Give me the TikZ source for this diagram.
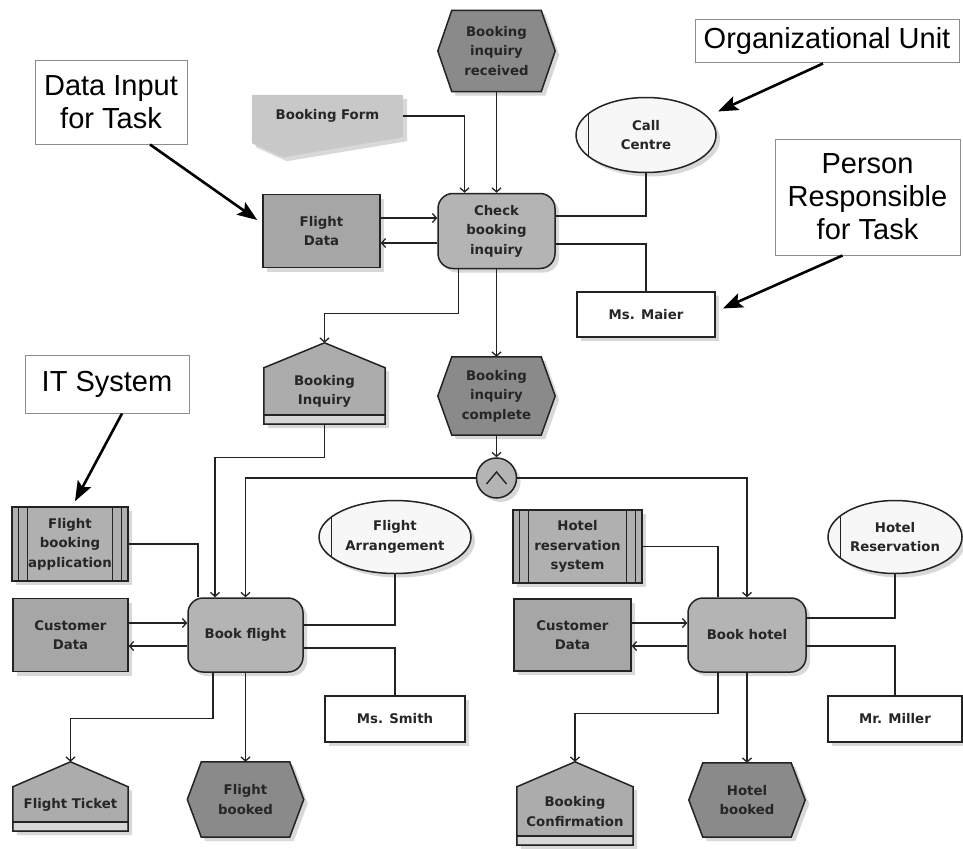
\documentclass[tikz,border=0pt]{standalone}
\usepackage{fontspec}
\setmainfont{Liberation Sans}
\newfontfamily\lbl{DejaVu Sans}
\usetikzlibrary{shapes.geometric,shadows,arrows.meta,backgrounds}

\definecolor{linecol}{RGB}{35,35,35}
\definecolor{evtfill}{RGB}{138,138,138}
\definecolor{fnfill}{RGB}{180,180,180}
\definecolor{datafill}{RGB}{166,166,166}
\definecolor{itfill}{RGB}{176,176,176}
\definecolor{outfill}{RGB}{172,172,172}
\definecolor{bandfill}{RGB}{215,215,215}
\definecolor{formfill}{RGB}{200,200,200}
\definecolor{orgfill}{RGB}{247,247,247}

% event: hexagon around a node box
\newcommand\evhex[1]{%
  \path[evshape] (#1.west) -- ([xshift=14pt]#1.north west) -- ([xshift=-14pt]#1.north east)
    -- (#1.east) -- ([xshift=-14pt]#1.south east) -- ([xshift=14pt]#1.south west) -- cycle;}
% information object: house with a band at the bottom
\newcommand\outhouse[1]{%
  \path[outshape] (#1.north west) -- ([yshift=25pt]#1.north) -- (#1.north east)
    -- ([yshift=-9pt]#1.south east) -- ([yshift=-9pt]#1.south west) -- cycle;
  \fill[bandfill] ([xshift=0.75pt]#1.south west) rectangle ([shift={(-0.75pt,-8.25pt)}]#1.south east);
  \draw[linecol,line width=1.5pt] (#1.south west) -- (#1.south east);}
% document with a pointed lower edge
\newcommand\formdoc[1]{%
  \fill[formfill,shade] (#1.north west) -- (#1.north east) -- (#1.south east)
    -- ([shift={(31pt,-20pt)}]#1.south west) -- ([yshift=-6pt]#1.south west) -- cycle;}

\begin{document}
\begin{tikzpicture}[x=1pt,y=-1pt,
  lw/.style={draw=linecol,line width=1.5pt},
  shade/.style={drop shadow={shadow xshift=4pt,shadow yshift=-4pt,fill=black!30}},
  txt/.style={align=center,inner sep=0pt,text=black!85,font=\lbl\bfseries\fontsize{13.3}{19.5}\selectfont},
  sz/.style 2 args={minimum width=#1,minimum height=#2},
  evt/.style={txt},
  evshape/.style={lw,fill=evtfill,shade},
  outshape/.style={lw,fill=outfill,shade},
  fn/.style={txt,rectangle,rounded corners=15pt,lw,fill=fnfill,shade},
  data/.style={txt,rectangle,lw,fill=datafill,shade},
  pers/.style={txt,rectangle,lw,fill=white,shade},
  itsys/.style={txt,rectangle,lw,fill=itfill,shade,path picture={
    \foreach \s in {6.5,15.5}{
      \draw[linecol,line width=1.2pt] ([xshift=\s pt]path picture bounding box.north west) -- ([xshift=\s pt]path picture bounding box.south west);
      \draw[linecol,line width=1.2pt] ([xshift=-\s pt]path picture bounding box.north east) -- ([xshift=-\s pt]path picture bounding box.south east);}}},
  org/.style={txt,ellipse,lw,fill=orgfill,shade,path picture={
    \draw[linecol,line width=1.2pt] ([xshift=12.5pt]path picture bounding box.north west) -- ([xshift=12.5pt]path picture bounding box.south west);}},
  andc/.style={circle,lw,fill=fnfill,shade,minimum size=40pt,inner sep=0pt,path picture={
    \draw[linecol,line width=1.4pt] ([shift={(-10pt,-6pt)}]path picture bounding box.center) -- ([yshift=6pt]path picture bounding box.center) -- ([shift={(10pt,-6pt)}]path picture bounding box.center);}},
  ann/.style={draw=black!45,line width=1pt,fill=white,align=center,inner sep=0pt,font=\fontsize{29}{33}\selectfont},
  annarr/.style={line width=2.6pt,draw=black,-{Stealth[length=20pt,width=15pt,inset=4pt]}},
  conn/.style={draw=linecol,line width=1.3pt},
  arr/.style={conn,-{Straight Barb[length=4pt,width=9pt]}}
]
\useasboundingbox (0,0) rectangle (963,848);
\begin{scope}[on background layer]
  \fill[white] (0,0) rectangle (963,848);
\end{scope}

% --- check booking inquiry ---
\node[evt,sz={117}{81}] (ev1) at (496.5,51) {Booking\\inquiry\\received};
\node[txt,sz={151}{42}] (form) at (327.5,116) {Booking Form};
\node[fn,sz={117}{75}] (fn1) at (496.5,231) {Check\\booking\\inquiry};
\node[data,sz={117}{73}] (fdata) at (321.5,231) {Flight\\Data};
\node[org,sz={140}{75}] (org1) at (646,135) {Call\\Centre};
\node[pers,sz={138}{45}] (p1) at (646,314.5) {Ms. Maier};
\node[txt,sz={121}{47}] (out1) at (324.5,391.5) {Booking\\Inquiry};
\node[evt,sz={117}{78}] (ev2) at (496.5,396) {Booking\\inquiry\\complete};
\node[andc] (and) at (496.5,478) {};

% --- book flight ---
\node[itsys,sz={116}{74}] (it1) at (70,544) {Flight\\booking\\application};
\node[data,sz={115}{73}] (cdata1) at (70.5,635) {Customer\\Data};
\node[fn,sz={115}{74}] (fn2) at (245.5,635) {Book flight};
\node[org,sz={152}{73}] (org2) at (395,537) {Flight\\Arrangement};
\node[pers,sz={140}{46}] (p2) at (395,719) {Ms. Smith};
\node[txt,sz={115}{35}] (out2) at (70.5,804.5) {Flight Ticket};
\node[evt,sz={116}{75}] (ev3) at (245.5,799.5) {Flight\\booked};

% --- book hotel ---
\node[itsys,sz={129}{73}] (it2) at (577.5,546.5) {Hotel\\reservation\\system};
\node[data,sz={117}{72}] (cdata2) at (572.5,635) {Customer\\Data};
\node[fn,sz={118}{74}] (fn3) at (747,635) {Book hotel};
\node[org,sz={134}{73}] (org3) at (895,537) {Hotel\\Reservation};
\node[pers,sz={134}{46}] (p3) at (895,719) {Mr. Miller};
\node[txt,sz={116}{49}] (out3) at (575,811.5) {Booking\\Confirmation};
\node[evt,sz={116}{74}] (ev4) at (747,800) {Hotel\\booked};

% --- legend boxes ---
\node[ann,sz={152}{83}] (ann1) at (111,102.5) {Data Input\\for Task};
\node[ann,sz={264}{43}] (ann2) at (827,41.5) {Organizational Unit};
\node[ann,sz={185}{116}] (ann3) at (867.5,197) {Person\\Responsible\\for Task};
\node[ann,sz={164}{58}] (ann4) at (107,384) {IT System};

% shapes drawn behind the labels
\begin{scope}[on background layer]
  \evhex{ev1} \evhex{ev2} \evhex{ev3} \evhex{ev4}
  \outhouse{out1} \outhouse{out2} \outhouse{out3}
  \formdoc{form}
\end{scope}

% connectors: check booking inquiry
\draw[arr] (ev1.south) -- (fn1.north);
\draw[arr] (form.east) -| ([xshift=-32pt]fn1.north);
\draw[arr] ([yshift=13pt]fdata.east) -- ([yshift=13pt]fn1.west);
\draw[arr] ([yshift=-12pt]fn1.west) -- ([yshift=-12pt]fdata.east);
\draw[conn] ([yshift=15pt]fn1.east) -| (org1.south);
\draw[conn] ([yshift=-13pt]fn1.east) -| (p1.north);
\draw[arr] ([xshift=-38pt]fn1.south) -- ++(0,44.5) -| ([yshift=25pt]out1.north);
\draw[arr] (fn1.south) -- (ev2.north);
\draw[arr] (ev2.south) -- (and.north);
\draw[arr] (and.west) -| (fn2.north);
\draw[arr] (and.east) -| (fn3.north);

% connectors: book flight
\draw[arr] ([yshift=-9pt]out1.south) -- ++(0,33) -| ([xshift=-30.5pt]fn2.north);
\draw[conn] (it1.east) -| ([xshift=-47.5pt]fn2.north);
\draw[arr] ([yshift=12pt]cdata1.east) -- ([yshift=12pt]fn2.west);
\draw[arr] ([yshift=-11pt]fn2.west) -- ([yshift=-11pt]cdata1.east);
\draw[conn] ([yshift=10pt]fn2.east) -| (org2.south);
\draw[conn] ([yshift=-13pt]fn2.east) -| (p2.north);
\draw[arr] ([xshift=-32.5pt]fn2.south) -- ++(0,46) -| ([yshift=25pt]out2.north);
\draw[arr] (fn2.south) -- (ev3.north);

% connectors: book hotel
\draw[conn] (it2.east) -| ([xshift=-29pt]fn3.north);
\draw[arr] ([yshift=12pt]cdata2.east) -- ([yshift=12pt]fn3.west);
\draw[arr] ([yshift=-11pt]fn3.west) -- ([yshift=-11pt]cdata2.east);
\draw[conn] ([yshift=17pt]fn3.east) -| (org3.south);
\draw[conn] ([yshift=-11pt]fn3.east) -| (p3.north);
\draw[arr] ([xshift=-29pt]fn3.south) -- ++(0,41) -| ([yshift=25pt]out3.north);
\draw[arr] (fn3.south) -- (ev4.north);

% legend pointers
\draw[annarr] ([xshift=39pt]ann1.south) -- ([shift={(-5pt,11pt)}]fdata.west);
\draw[annarr] ([xshift=-4pt]ann2.south) -- ([shift={(22pt,-3.5pt)}]org1.north east);
\draw[annarr] ([xshift=-25pt]ann3.south) -- ([shift={(7pt,6pt)}]p1.east);
\draw[annarr] ([xshift=15pt]ann4.south) -- ([shift={(5pt,5pt)}]it1.north);
\end{tikzpicture}
\end{document}
